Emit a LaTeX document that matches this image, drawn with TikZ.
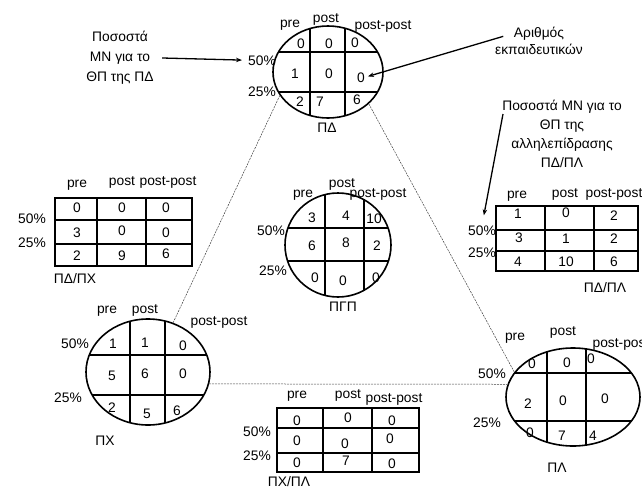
\documentclass[tikz,border=0pt]{standalone}
\usepackage{fontspec}
\newfontfamily\lf{Liberation Sans}
\usetikzlibrary{shapes.geometric,arrows.meta}
\tikzset{
  lbl/.style={anchor=base, inner sep=0pt, font=\lf\fontsize{13.8}{17}\selectfont},
  ell/.style={draw, ellipse, line width=1.6pt, inner sep=0pt},
  gridl/.style={line width=1.6pt},
  tbl/.style={draw, line width=1.6pt, inner sep=0pt},
  tri/.style={draw=black!75, line width=0.5pt, dash pattern=on 2pt off 1pt},
  arr/.style={-{Stealth[length=6pt,width=4.5pt]}, line width=1.3pt},
}
\newcommand\mkell[9]{%
  \begin{scope}
    \clip (#2,#3) ellipse [x radius=#4pt, y radius=#5pt];
    \draw[gridl] (#2-#4,#6) -- (#2+#4,#6) (#2-#4,#7) -- (#2+#4,#7)
                 (#8,#3-#5) -- (#8,#3+#5) (#9,#3-#5) -- (#9,#3+#5);
  \end{scope}
  \node[ell, minimum width=2*#4 pt, minimum height=2*#5 pt] (#1) at (#2,#3) {};}
\newcommand\mktbl[9]{%
  \node[tbl, minimum width=#4pt-#2pt, minimum height=#5pt-#3pt] (#1) at ({(#2+#4)/2},{(#3+#5)/2}) {};
  \draw[gridl] (#2,#6) -- (#4,#6) (#2,#7) -- (#4,#7) (#8,#3) -- (#8,#5) (#9,#3) -- (#9,#5);}
\begin{document}
\begin{tikzpicture}[x=1pt,y=-1pt]
\useasboundingbox (0,0) rectangle (642,490);

% ---------- PD ellipse ----------
\mkell{PD}{328}{72}{55}{46}{52}{92}{310}{345}
\node[lbl] (pdpre) at (290,27) {pre};
\node[lbl] (pdpost) at (326,22) {post};
\node[lbl] (pdpp) at (383,29) {post-post};
\node[lbl] (pd50) at (262,65) {50\%};
\node[lbl] (pd25) at (262,96) {25\%};
\node[lbl] (pd11) at (301,48) {0};
\node[lbl] (pd12) at (329,48) {0};
\node[lbl] (pd13) at (355,47) {0};
\node[lbl] (pd21) at (295,78) {1};
\node[lbl] (pd22) at (329,78) {0};
\node[lbl] (pd23) at (361,82) {0};
\node[lbl] (pd31) at (300,106) {2};
\node[lbl] (pd32) at (320,106) {7};
\node[lbl] (pd33) at (357,104) {6};
\node[lbl] (pdname) at (327,132) {ΠΔ};

% ---------- PGP ellipse ----------
\mkell{PG}{338}{245}{53}{52}{228}{261}{325}{364}
\node[lbl] (pgpre) at (303,197) {pre};
\node[lbl] (pgpost) at (342,187) {post};
\node[lbl] (pgpp) at (378,197) {post-post};
\node[lbl] (pg50) at (271,235) {50\%};
\node[lbl] (pg25) at (273,275) {25\%};
\node[lbl] (pg11) at (312,222) {3};
\node[lbl] (pg12) at (346,220) {4};
\node[lbl] (pg13) at (374,223) {10};
\node[lbl] (pg21) at (312,250) {6};
\node[lbl] (pg22) at (346,247) {8};
\node[lbl] (pg23) at (377,250) {2};
\node[lbl] (pg31) at (315,282) {0};
\node[lbl] (pg32) at (343,285) {0};
\node[lbl] (pg33) at (376,282) {0};
\node[lbl] (pgname) at (343,311) {ΠΓΠ};

% ---------- PX ellipse ----------
\mkell{PX}{148}{372}{62}{53}{355}{395}{130}{165}
\node[lbl] (pxpre) at (107,313) {pre};
\node[lbl] (pxpost) at (145,313) {post};
\node[lbl] (pxpp) at (219,325) {post-post};
\node[lbl] (px50) at (75,348) {50\%};
\node[lbl] (px25) at (68,402) {25\%};
\node[lbl] (px11) at (113,348) {1};
\node[lbl] (px12) at (145,347) {1};
\node[lbl] (px13) at (183,350) {0};
\node[lbl] (px21) at (112,380) {5};
\node[lbl] (px22) at (145,378) {6};
\node[lbl] (px23) at (183,378) {0};
\node[lbl] (px31) at (112,412) {2};
\node[lbl] (px32) at (147,418) {5};
\node[lbl] (px33) at (177,415) {6};
\node[lbl] (pxname) at (105,445) {ΠΧ};

% ---------- PL ellipse ----------
\mkell{PL}{573}{397}{67}{49}{373}{421}{547}{586}
\node[lbl] (plpre) at (515,340) {pre};
\node[lbl] (plpost) at (563,335) {post};
\node[lbl] (plpp) at (621,347) {post-post};
\node[lbl] (pl50) at (492,378) {50\%};
\node[lbl] (pl25) at (487,427) {25\%};
\node[lbl] (pl11) at (532,368) {0};
\node[lbl] (pl12) at (567,367) {0};
\node[lbl] (pl13) at (591,363) {0};
\node[lbl] (pl21) at (528,408) {2};
\node[lbl] (pl22) at (563,405) {0};
\node[lbl] (pl23) at (605,403) {0};
\node[lbl] (pl31) at (530,437) {0};
\node[lbl] (pl32) at (562,440) {7};
\node[lbl] (pl33) at (593,440) {4};
\node[lbl] (plname) at (557,472) {ΠΛ};

% ---------- Table PD/PX ----------
\mktbl{TA}{55}{198}{192}{266}{220}{244}{97}{146}
\node[lbl] (tapre) at (77,187) {pre};
\node[lbl] (tapost) at (122,185) {post};
\node[lbl] (tapp) at (168,185) {post-post};
\node[lbl] (ta50) at (32,223) {50\%};
\node[lbl] (ta25) at (32,247) {25\%};
\node[lbl] (ta11) at (77,212) {0};
\node[lbl] (ta12) at (122,212) {0};
\node[lbl] (ta13) at (166,212) {0};
\node[lbl] (ta21) at (77,237) {3};
\node[lbl] (ta22) at (122,235) {0};
\node[lbl] (ta23) at (166,237) {0};
\node[lbl] (ta31) at (77,260) {2};
\node[lbl] (ta32) at (122,260) {9};
\node[lbl] (ta33) at (166,258) {6};
\node[lbl] (taname) at (75,283) {ΠΔ/ΠΧ};

% ---------- Table PD/PL ----------
\mktbl{TB}{496}{206}{638}{271}{230}{251}{545}{594}
\node[lbl] (tbpre) at (517,198) {pre};
\node[lbl] (tbpost) at (565,197) {post};
\node[lbl] (tbpp) at (614,197) {post-post};
\node[lbl] (tb50) at (482,235) {50\%};
\node[lbl] (tb25) at (482,257) {25\%};
\node[lbl] (tb11) at (518,218) {1};
\node[lbl] (tb12) at (566,217) {0};
\node[lbl] (tb13) at (614,220) {2};
\node[lbl] (tb21) at (519,242) {3};
\node[lbl] (tb22) at (566,243) {1};
\node[lbl] (tb23) at (614,243) {2};
\node[lbl] (tb31) at (518,266) {4};
\node[lbl] (tb32) at (566,266) {10};
\node[lbl] (tb33) at (614,266) {6};
\node[lbl] (tbname) at (605,292) {ΠΔ/ΠΛ};

% ---------- Table PX/PL ----------
\mktbl{TC}{277}{408}{419}{472}{428}{453}{323}{372}
\node[lbl] (tcpre) at (297,398) {pre};
\node[lbl] (tcpost) at (348,398) {post};
\node[lbl] (tcpp) at (394,402) {post-post};
\node[lbl] (tc50) at (257,436) {50\%};
\node[lbl] (tc25) at (257,460) {25\%};
\node[lbl] (tc11) at (297,425) {0};
\node[lbl] (tc12) at (348,422) {0};
\node[lbl] (tc13) at (392,425) {0};
\node[lbl] (tc21) at (297,445) {0};
\node[lbl] (tc22) at (345,448) {0};
\node[lbl] (tc23) at (390,443) {0};
\node[lbl] (tc31) at (297,467) {0};
\node[lbl] (tc32) at (346,465) {7};
\node[lbl] (tc33) at (392,468) {0};
\node[lbl] (tcname) at (289,486) {ΠΧ/ΠΛ};

% ---------- Annotation texts ----------
\node[lbl] (lt1) at (120,41) {Ποσοστά};
\node[lbl] (lt2) at (120,61) {ΜΝ για το};
\node[lbl] (lt3) at (120,81.5) {ΘΠ της ΠΔ};
\node[lbl] (rt1) at (539,37) {Αριθμός};
\node[lbl] (rt2) at (539,54) {εκπαιδευτικών};
\node[lbl] (mt1) at (562,110.5) {Ποσοστά ΜΝ για το};
\node[lbl] (mt2) at (562,129.5) {ΘΠ της};
\node[lbl] (mt3) at (562,148.5) {αλληλεπίδρασης};
\node[lbl] (mt4) at (562,167.5) {ΠΔ/ΠΛ};
\coordinate (mtarr) at (503,114);

% ---------- Arrows ----------
\draw[arr, shorten <=12pt, shorten >=6pt] (lt2.east) -- (pd50.west);
\draw[arr, shorten <=11pt, shorten >=3pt] (rt1.west) -- (pd23.east);
\draw[arr, shorten >=10pt] (mtarr) -- (tb50.north);

% ---------- Dashed triangle ----------
\draw[tri] (PD.206) -- (PX.63);
\draw[tri] (PD.-38) -- (PL.157);
\draw[tri] (PX.-11) -- (PL.169);
\end{tikzpicture}
\end{document}
